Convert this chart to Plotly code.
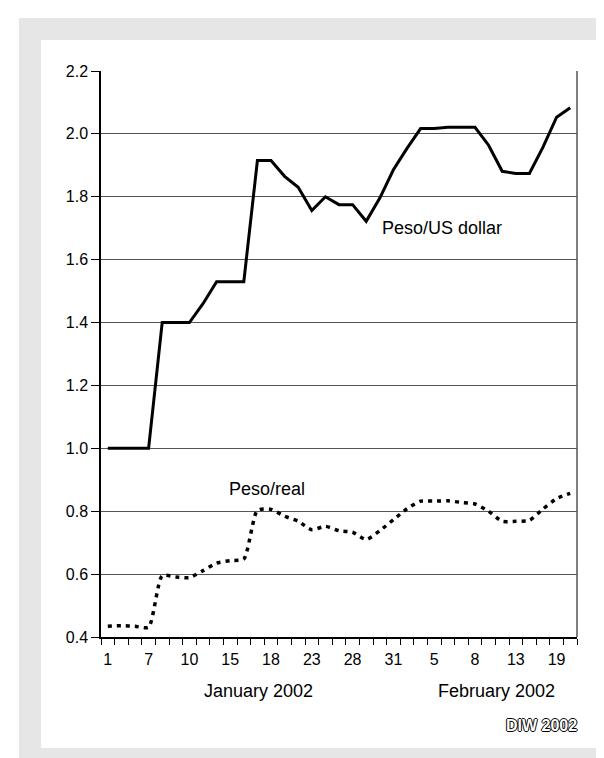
import plotly.graph_objects as go

# Trading days (categories) — labels only every third category
jan_days = [1, 3, 4, 7, 8, 9, 10, 11, 14, 15, 16, 17, 18, 21, 22, 23, 24, 25, 28, 29, 30, 31]
feb_days = [1, 4, 5, 6, 7, 8, 11, 12, 13, 14, 15, 19, 20]
categories = [f"Jan {d}" for d in jan_days] + [f"Feb {d}" for d in feb_days]
tick_labels = [str(d) for d in jan_days] + [str(d) for d in feb_days]

peso_usd = [1.00, 1.00, 1.00, 1.00, 1.40, 1.40, 1.40, 1.46, 1.53, 1.53, 1.53,
            1.915, 1.915, 1.865, 1.83, 1.756, 1.80, 1.775, 1.775, 1.722, 1.796,
            1.886, 1.954, 2.017, 2.017, 2.021, 2.021, 2.021, 1.964, 1.881, 1.874,
            1.874, 1.958, 2.053, 2.083]

peso_real = [0.434, 0.436, 0.434, 0.431, 0.595, 0.591, 0.589, 0.611, 0.635, 0.643, 0.648,
             0.803, 0.806, 0.784, 0.768, 0.741, 0.752, 0.738, 0.733, 0.710, 0.738,
             0.773, 0.808, 0.832, 0.832, 0.833, 0.828, 0.823, 0.800, 0.768, 0.768,
             0.771, 0.807, 0.840, 0.857]

y_ticks = [0.4, 0.6, 0.8, 1.0, 1.2, 1.4, 1.6, 1.8, 2.0, 2.2]

FONT = "Liberation Sans, Arial, sans-serif"
FS = 16      # tick labels
FA = 18      # annotations

fig = go.Figure()
fig.add_trace(go.Scatter(
    x=categories, y=peso_usd, mode="lines",
    line=dict(color="black", width=3), name="Peso/US dollar", showlegend=False))
fig.add_trace(go.Scatter(
    x=categories, y=peso_real, mode="lines",
    line=dict(color="black", width=3.5, dash="4px,5px", shape="spline", smoothing=0.6),
    name="Peso/real", showlegend=False))

show_text = [lab if i % 3 == 0 else "" for i, lab in enumerate(tick_labels)]

L, R, T, B = 93, 35, 63, 129
W, H = 604, 758
pw, ph = W - L - R, H - T - B

def px(x):
    return (x - L) / pw

def py(y):
    return (H - B - y) / ph

fig.update_layout(
    width=W, height=H,
    margin=dict(l=L, r=R, t=T, b=B),
    paper_bgcolor="white", plot_bgcolor="white",
    font=dict(family=FONT, size=FS, color="black"),
    xaxis=dict(
        type="category", categoryorder="array", categoryarray=categories,
        tickmode="array", tickvals=categories, ticktext=show_text, tickangle=0,
        tickson="boundaries", ticks="outside", ticklen=6, tickcolor="black",
        ticklabelstandoff=7,
        showline=True, linecolor="black", linewidth=1.5,
        showgrid=False, zeroline=False, range=[-0.5, len(categories) - 0.5],
        tickfont=dict(size=FS), automargin=False),
    yaxis=dict(
        range=[0.4, 2.2], tickmode="array", tickvals=y_ticks,
        ticktext=[f"{v:.1f}" for v in y_ticks],
        ticks="outside", ticklen=8, tickcolor="black",
        showline=True, linecolor="black", linewidth=1.5,
        showgrid=True, gridcolor="#555555", gridwidth=1, zeroline=False,
        tickfont=dict(size=FS), automargin=False),
    shapes=[
        dict(type="rect", xref="paper", yref="paper", layer="below",
             x0=px(11), x1=px(604), y0=py(758), y1=py(10),
             fillcolor="#e6e6e6", line=dict(width=0)),
        dict(type="rect", xref="paper", yref="paper", layer="below",
             x0=px(33), x1=px(590), y0=py(740), y1=py(32),
             fillcolor="white", line=dict(width=0)),
        dict(type="line", xref="paper", yref="paper",
             x0=1, x1=1, y0=0, y1=1, line=dict(color="#555555", width=1.5)),
    ],
    annotations=[
        dict(text="Peso/US dollar", x=20.0, y=1.70, xref="x", yref="y",
             xanchor="left", yanchor="middle", showarrow=False, font=dict(size=FA)),
        dict(text="Peso/real", x=8.8, y=0.871, xref="x", yref="y",
             xanchor="left", yanchor="middle", showarrow=False, font=dict(size=FA)),
        dict(text="January 2002", x=px(250), y=py(683), xref="paper", yref="paper",
             xanchor="center", yanchor="middle", showarrow=False, font=dict(size=FA)),
        dict(text="February 2002", x=px(488), y=py(683), xref="paper", yref="paper",
             xanchor="center", yanchor="middle", showarrow=False, font=dict(size=FA)),
        dict(text="<b>DIW 2002</b>", x=px(571), y=py(717), xref="paper", yref="paper",
             xanchor="right", yanchor="middle", showarrow=False,
             font=dict(size=16, color="white",
                       shadow="1px 0 0 #000, -1px 0 0 #000, 0 1px 0 #000, 0 -1px 0 #000")),
    ],
)

fig.write_html("out.html")
